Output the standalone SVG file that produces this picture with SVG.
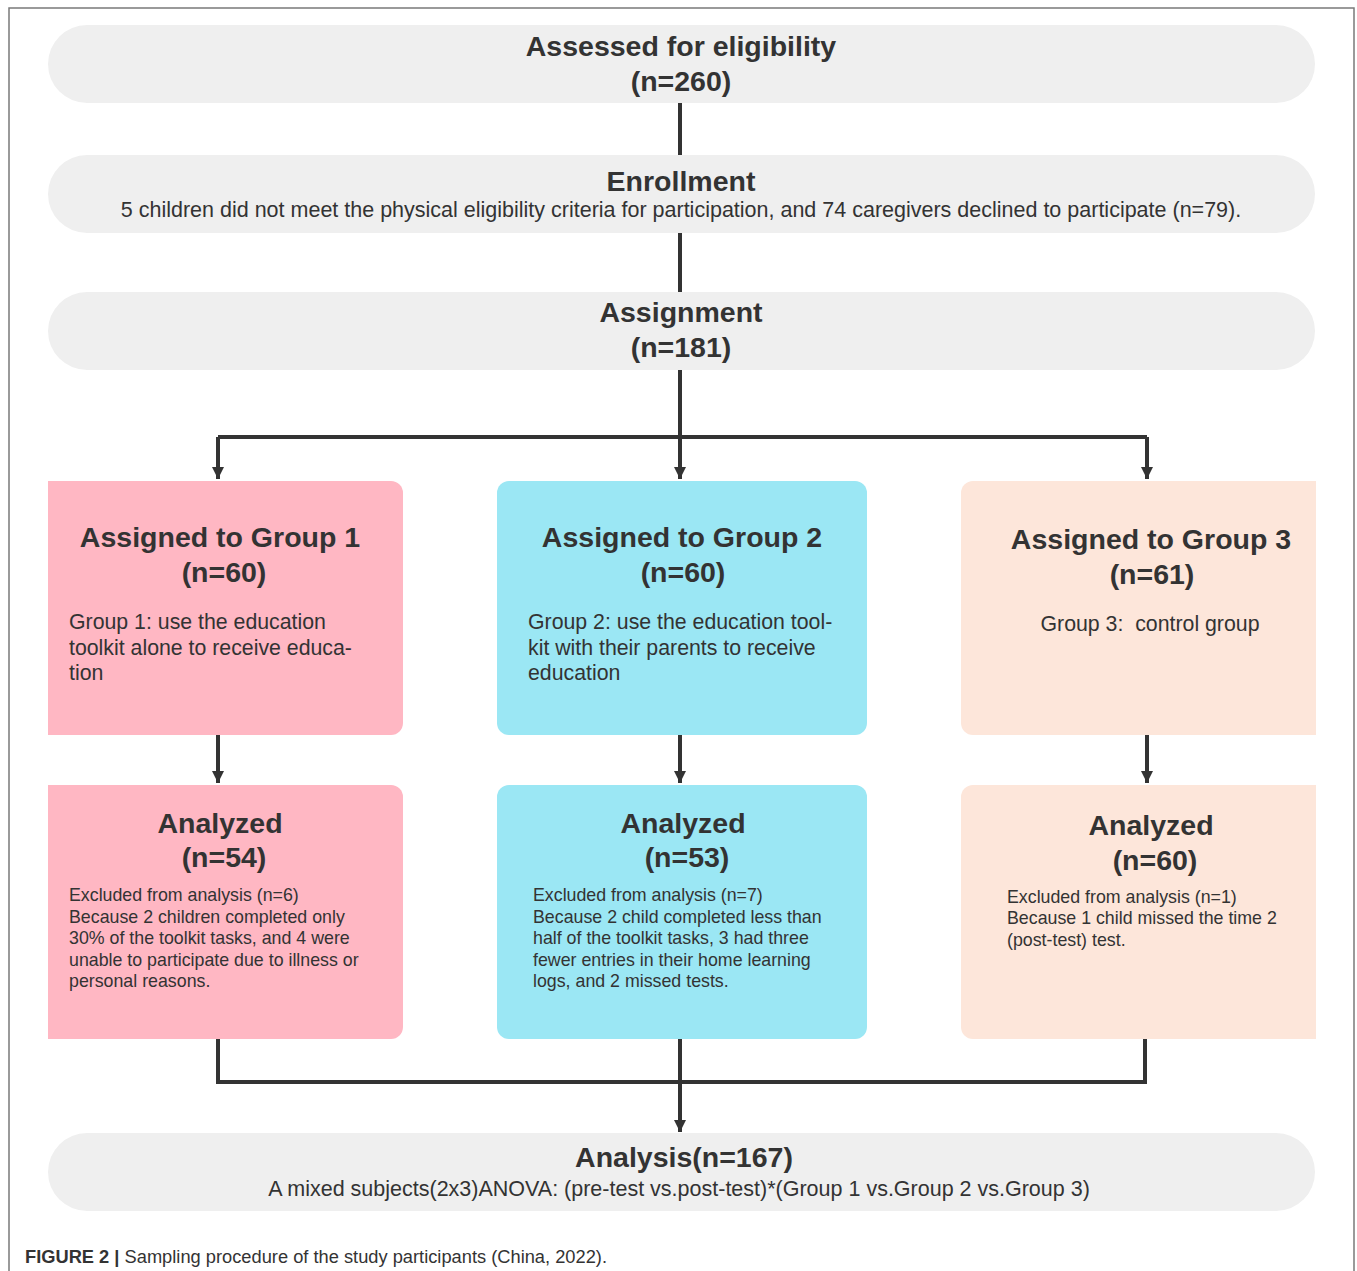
<svg xmlns="http://www.w3.org/2000/svg" width="1357" height="1271" viewBox="0 0 1357 1271">
<style>
text{font-family:"Liberation Sans",Arial,sans-serif;fill:#333333}
.h{font-size:28.5px;font-weight:bold;text-anchor:middle}
.sub{font-size:21.5px;text-anchor:middle}
.body{font-size:21.3px}
.small{font-size:17.8px}
.pill{fill:#efefef}
.g1{fill:#ffb7c3}
.g2{fill:#9be7f4}
.g3{fill:#fde6da}
.conn{fill:none;stroke:#333333;stroke-width:4}
.frame{fill:none;stroke:#7a7a7a;stroke-width:1.5}
</style>
<defs>
<marker id="arr" markerUnits="userSpaceOnUse" markerWidth="14" markerHeight="14" viewBox="0 0 14 14" refX="13" refY="7" orient="auto">
<path d="M1,1 L13,7 L1,13 Z" fill="#333333"/>
</marker>
</defs>
<rect width="1357" height="1271" fill="#ffffff"/>
<path class="frame" d="M9,1271 V8 H1354 V1271"/>

<g id="connectors">
<path class="conn" d="M680,103 V155"/>
<path class="conn" d="M680,233 V292"/>
<path class="conn" d="M680,370 V437"/>
<path class="conn" d="M218,437 H1147"/>
<path class="conn" d="M218,437 V479" marker-end="url(#arr)"/>
<path class="conn" d="M680,437 V479" marker-end="url(#arr)"/>
<path class="conn" d="M1147,437 V479" marker-end="url(#arr)"/>
<path class="conn" d="M218,735 V783" marker-end="url(#arr)"/>
<path class="conn" d="M680,735 V783" marker-end="url(#arr)"/>
<path class="conn" d="M1147,735 V783" marker-end="url(#arr)"/>
<path class="conn" d="M218,1039 V1082 H1145 V1039"/>
<path class="conn" d="M680,1039 V1132" marker-end="url(#arr)"/>
</g>

<g id="assessed">
<rect class="pill" x="48" y="25" width="1267" height="78" rx="39"/>
<text class="h" x="681" y="56">Assessed for eligibility</text>
<text class="h" x="681" y="91">(n=260)</text>
</g>

<g id="enrollment">
<rect class="pill" x="48" y="155" width="1267" height="78" rx="39"/>
<text class="h" x="681" y="191">Enrollment</text>
<text class="sub" x="681" y="217">5 children did not meet the physical eligibility criteria for participation, and 74 caregivers declined to participate (n=79).</text>
</g>

<g id="assignment">
<rect class="pill" x="48" y="292" width="1267" height="78" rx="39"/>
<text class="h" x="681" y="322">Assignment</text>
<text class="h" x="681" y="357">(n=181)</text>
</g>

<g id="group1">
<path class="g1" d="M48,481 H391 A12,12 0 0 1 403,493 V723 A12,12 0 0 1 391,735 H48 Z"/>
<text class="h" x="220" y="547">Assigned to Group 1</text>
<text class="h" x="224" y="582">(n=60)</text>
<text class="body" x="69" y="629">Group 1: use the education</text>
<text class="body" x="69" y="655">toolkit alone to receive educa-</text>
<text class="body" x="69" y="680">tion</text>
</g>

<g id="group2">
<rect class="g2" x="497" y="481" width="370" height="254" rx="12"/>
<text class="h" x="682" y="547">Assigned to Group 2</text>
<text class="h" x="683" y="582">(n=60)</text>
<text class="body" x="528" y="629">Group 2: use the education tool-</text>
<text class="body" x="528" y="655">kit with their parents to receive</text>
<text class="body" x="528" y="680">education</text>
</g>

<g id="group3">
<path class="g3" d="M1316,481 H973 A12,12 0 0 0 961,493 V723 A12,12 0 0 0 973,735 H1316 Z"/>
<text class="h" x="1151" y="549">Assigned to Group 3</text>
<text class="h" x="1152" y="584">(n=61)</text>
<text class="body" x="1150" y="631" text-anchor="middle">Group 3:&#160; control group</text>
</g>

<g id="analyzed1">
<path class="g1" d="M48,785 H391 A12,12 0 0 1 403,797 V1027 A12,12 0 0 1 391,1039 H48 Z"/>
<text class="h" x="220" y="833">Analyzed</text>
<text class="h" x="224" y="867">(n=54)</text>
<text class="small" x="69" y="901">Excluded from analysis (n=6)</text>
<text class="small" x="69" y="923">Because 2 children completed only</text>
<text class="small" x="69" y="944">30% of the toolkit tasks, and 4 were</text>
<text class="small" x="69" y="966">unable to participate due to illness or</text>
<text class="small" x="69" y="987">personal reasons.</text>
</g>

<g id="analyzed2">
<rect class="g2" x="497" y="785" width="370" height="254" rx="12"/>
<text class="h" x="683" y="833">Analyzed</text>
<text class="h" x="687" y="867">(n=53)</text>
<text class="small" x="533" y="901">Excluded from analysis (n=7)</text>
<text class="small" x="533" y="923">Because 2 child completed less than</text>
<text class="small" x="533" y="944">half of the toolkit tasks, 3 had three</text>
<text class="small" x="533" y="966">fewer entries in their home learning</text>
<text class="small" x="533" y="987">logs, and 2 missed tests.</text>
</g>

<g id="analyzed3">
<path class="g3" d="M1316,785 H973 A12,12 0 0 0 961,797 V1027 A12,12 0 0 0 973,1039 H1316 Z"/>
<text class="h" x="1151" y="835">Analyzed</text>
<text class="h" x="1155" y="870">(n=60)</text>
<text class="small" x="1007" y="903">Excluded from analysis (n=1)</text>
<text class="small" x="1007" y="924">Because 1 child missed the time 2</text>
<text class="small" x="1007" y="946">(post-test) test.</text>
</g>

<g id="analysis">
<rect class="pill" x="48" y="1133" width="1267" height="78" rx="39"/>
<text class="h" x="684" y="1167">Analysis(n=167)</text>
<text class="sub" x="679" y="1196">A mixed subjects(2x3)ANOVA: (pre-test vs.post-test)*(Group 1 vs.Group 2 vs.Group 3)</text>
</g>

<g id="caption">
<text x="25" y="1263" font-size="17.5" textLength="582" lengthAdjust="spacingAndGlyphs"><tspan font-weight="bold">FIGURE 2 |</tspan> Sampling procedure of the study participants (China, 2022).</text>
</g>
</svg>
